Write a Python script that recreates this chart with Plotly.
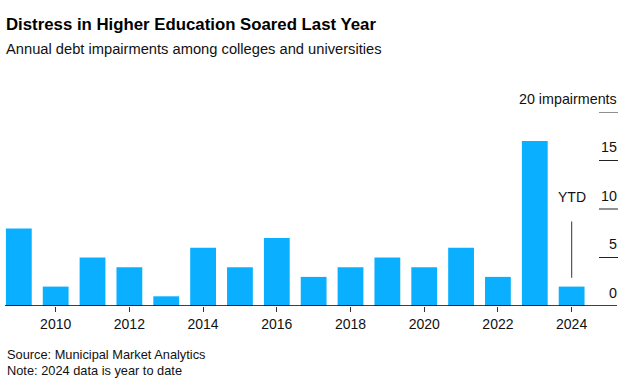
import plotly.graph_objects as go

years = list(range(2009, 2025))
impairments = [8, 2, 5, 4, 1, 6, 4, 7, 3, 4, 5, 4, 6, 3, 17, 2]
x_tick_vals = [2010, 2012, 2014, 2016, 2018, 2020, 2022, 2024]
y_tick_vals = [0, 5, 10, 15, 20]
y_tick_text = ["0", "5", "10", "15", "20 impairments"]

W, H = 631, 387
ML, MR, MT, MB = 5, 14, 112, 81
PW = W - ML - MR
PH = H - MT - MB

def py(px):  # pixel y (from top) -> paper y
    return (H - MB - px) / PH

def pxx(px):  # pixel x -> paper x
    return (px - ML) / PW

FONT = "Liberation Sans, Arial, Helvetica, sans-serif"
BAR = "#0aafff"

fig = go.Figure()
fig.add_trace(go.Bar(x=years, y=impairments, marker=dict(color=BAR, line=dict(width=0)),
                     hoverinfo="x+y"))

shapes = []
annotations = []
for v, t in zip(y_tick_vals, y_tick_text):
    if v > 0:
        shapes.append(dict(type="line", xref="paper", yref="y", x0=pxx(599), x1=pxx(618),
                           y0=v, y1=v, line=dict(color="#222", width=1)))
    annotations.append(dict(text=t, xref="paper", yref="y", x=pxx(619), y=v, xanchor="right",
                            yanchor="middle", yshift=13.5, showarrow=False,
                            font=dict(family=FONT, size=14.3, color="#111")))

# baseline
shapes.append(dict(type="line", xref="paper", yref="y", x0=0, x1=1, y0=0, y1=0,
                   line=dict(color="#000", width=1.3)))

# YTD annotation
ytd_year = 2024
shapes.append(dict(type="line", xref="x", yref="y", x0=ytd_year, x1=ytd_year, y0=2.9, y1=8.7,
                   line=dict(color="#555", width=1.2)))
annotations.append(dict(text="YTD", xref="x", yref="y", x=ytd_year, y=11.2, showarrow=False,
                        xanchor="center", yanchor="middle",
                        font=dict(family=FONT, size=14, color="#111")))

# titles
annotations.append(dict(text="<b>Distress in Higher Education Soared Last Year</b>", xref="paper",
                        yref="paper", x=pxx(4), y=py(24), xanchor="left", yanchor="middle",
                        showarrow=False, font=dict(family=FONT, size=16.8, color="#000")))
annotations.append(dict(text="Annual debt impairments among colleges and universities", xref="paper",
                        yref="paper", x=pxx(4), y=py(49), xanchor="left", yanchor="middle",
                        showarrow=False, font=dict(family=FONT, size=14.7, color="#111")))
annotations.append(dict(text="Source: Municipal Market Analytics", xref="paper",
                        yref="paper", x=pxx(5), y=py(354), xanchor="left", yanchor="middle",
                        showarrow=False, font=dict(family=FONT, size=12.8, color="#111")))
annotations.append(dict(text="Note: 2024 data is year to date", xref="paper",
                        yref="paper", x=pxx(5), y=py(370), xanchor="left", yanchor="middle",
                        showarrow=False, font=dict(family=FONT, size=12.8, color="#111")))

fig.update_layout(
    width=W, height=H,
    margin=dict(l=ML, r=MR, t=MT, b=MB, pad=0),
    paper_bgcolor="white", plot_bgcolor="white",
    showlegend=False, bargap=0.3,
    shapes=shapes, annotations=annotations,
    font=dict(family=FONT, size=14, color="#111"),
    xaxis=dict(range=[2008.625, 2025.231], tickmode="array", tickvals=x_tick_vals,
               ticks="outside", ticklen=5, tickcolor="#333", tickwidth=1,
               showgrid=False, zeroline=False, showline=False,
               tickfont=dict(family=FONT, size=14, color="#111")),
    yaxis=dict(range=[0, 20], showticklabels=False, showgrid=False, zeroline=False,
               showline=False, ticks=""),
)

fig.write_html("out.html", config={"displayModeBar": False},
               post_script="document.body.style.margin='0';document.body.style.padding='0';document.body.style.overflow='hidden';")
